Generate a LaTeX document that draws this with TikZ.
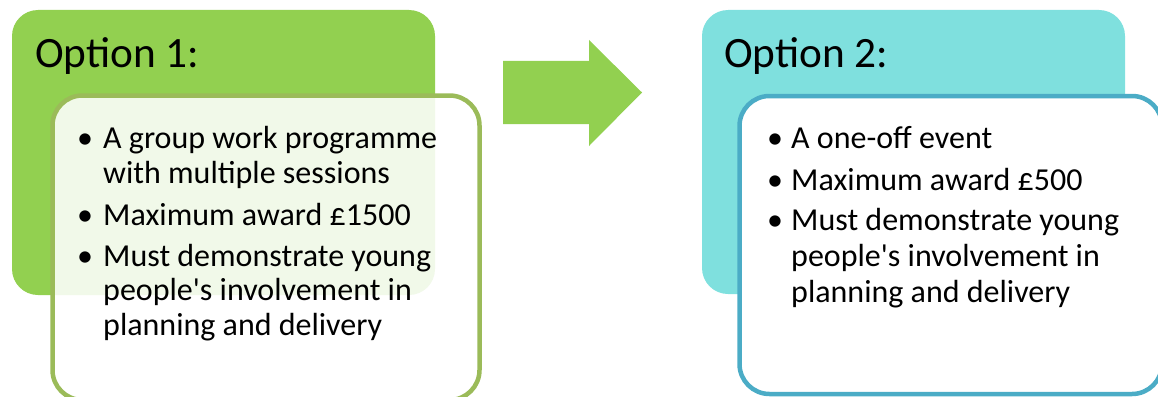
\documentclass[tikz,border=0pt]{standalone}
\usepackage{fontspec}
\setmainfont{Carlito}
\definecolor{optgreen}{HTML}{92D050}
\definecolor{optteal}{HTML}{7FE0DE}
\definecolor{bordgreen}{HTML}{9BBB59}
\definecolor{bordteal}{HTML}{4BACC6}
\begin{document}
\begin{tikzpicture}[x=1pt,y=-1pt,
  head/.style={anchor=base west,inner sep=0pt,font=\fontsize{43.3}{50}\selectfont},
  line/.style={anchor=base west,inner sep=0pt,font=\fontsize{32}{36}\selectfont},
  bul/.style={anchor=base,inner sep=0pt,font=\fontsize{32}{36}\selectfont},
  outerbox/.style={rounded corners=26pt},
  innerbox/.style={rounded corners=30pt,line width=4.5pt}]
\useasboundingbox (0,0) rectangle (1158,396);
\clip (0,0) rectangle (1158,396);
% Option 1
\fill[optgreen,outerbox] (12,10) rectangle (435,295);
\node[head] (h1) at (35,67) {Option 1:};
\draw[bordgreen,innerbox,fill=white,fill opacity=0.88] (52.5,95.5) rectangle (479.5,400);
\node[bul] (b11) at (85,148) {•};
\node[line] (t11) at (103,148) {A group work programme};
\node[line] (t12) at (103,183) {with multiple sessions};
\node[bul] (b12) at (85,225) {•};
\node[line] (t13) at (103,225) {Maximum award £1500};
\node[bul] (b13) at (85,266) {•};
\node[line] (t14) at (103,266) {Must demonstrate young};
\node[line] (t15) at (103,300) {people\textquotesingle s involvement in};
\node[line] (t16) at (103,335) {planning and delivery};
% arrow
\fill[optgreen] (503,61) -- (589,61) -- (589,40) -- (642,92.5) -- (589,146) -- (589,124) -- (503,124) -- cycle;
% Option 2
\fill[optteal,outerbox] (702,10) rectangle (1125,294);
\node[head] (h2) at (724,67) {Option 2:};
\draw[bordteal,innerbox,fill=white] (739.5,96) rectangle (1162,394);
\node[bul] (b21) at (775,148) {•};
\node[line] (t21) at (791,148) {A one-off event};
\node[bul] (b22) at (775,190) {•};
\node[line] (t22) at (791,190) {Maximum award £500};
\node[bul] (b23) at (775,230) {•};
\node[line] (t23) at (791,230) {Must demonstrate young};
\node[line] (t24) at (791,266) {people\textquotesingle s involvement in};
\node[line] (t25) at (791,302) {planning and delivery};
\end{tikzpicture}
\end{document}
